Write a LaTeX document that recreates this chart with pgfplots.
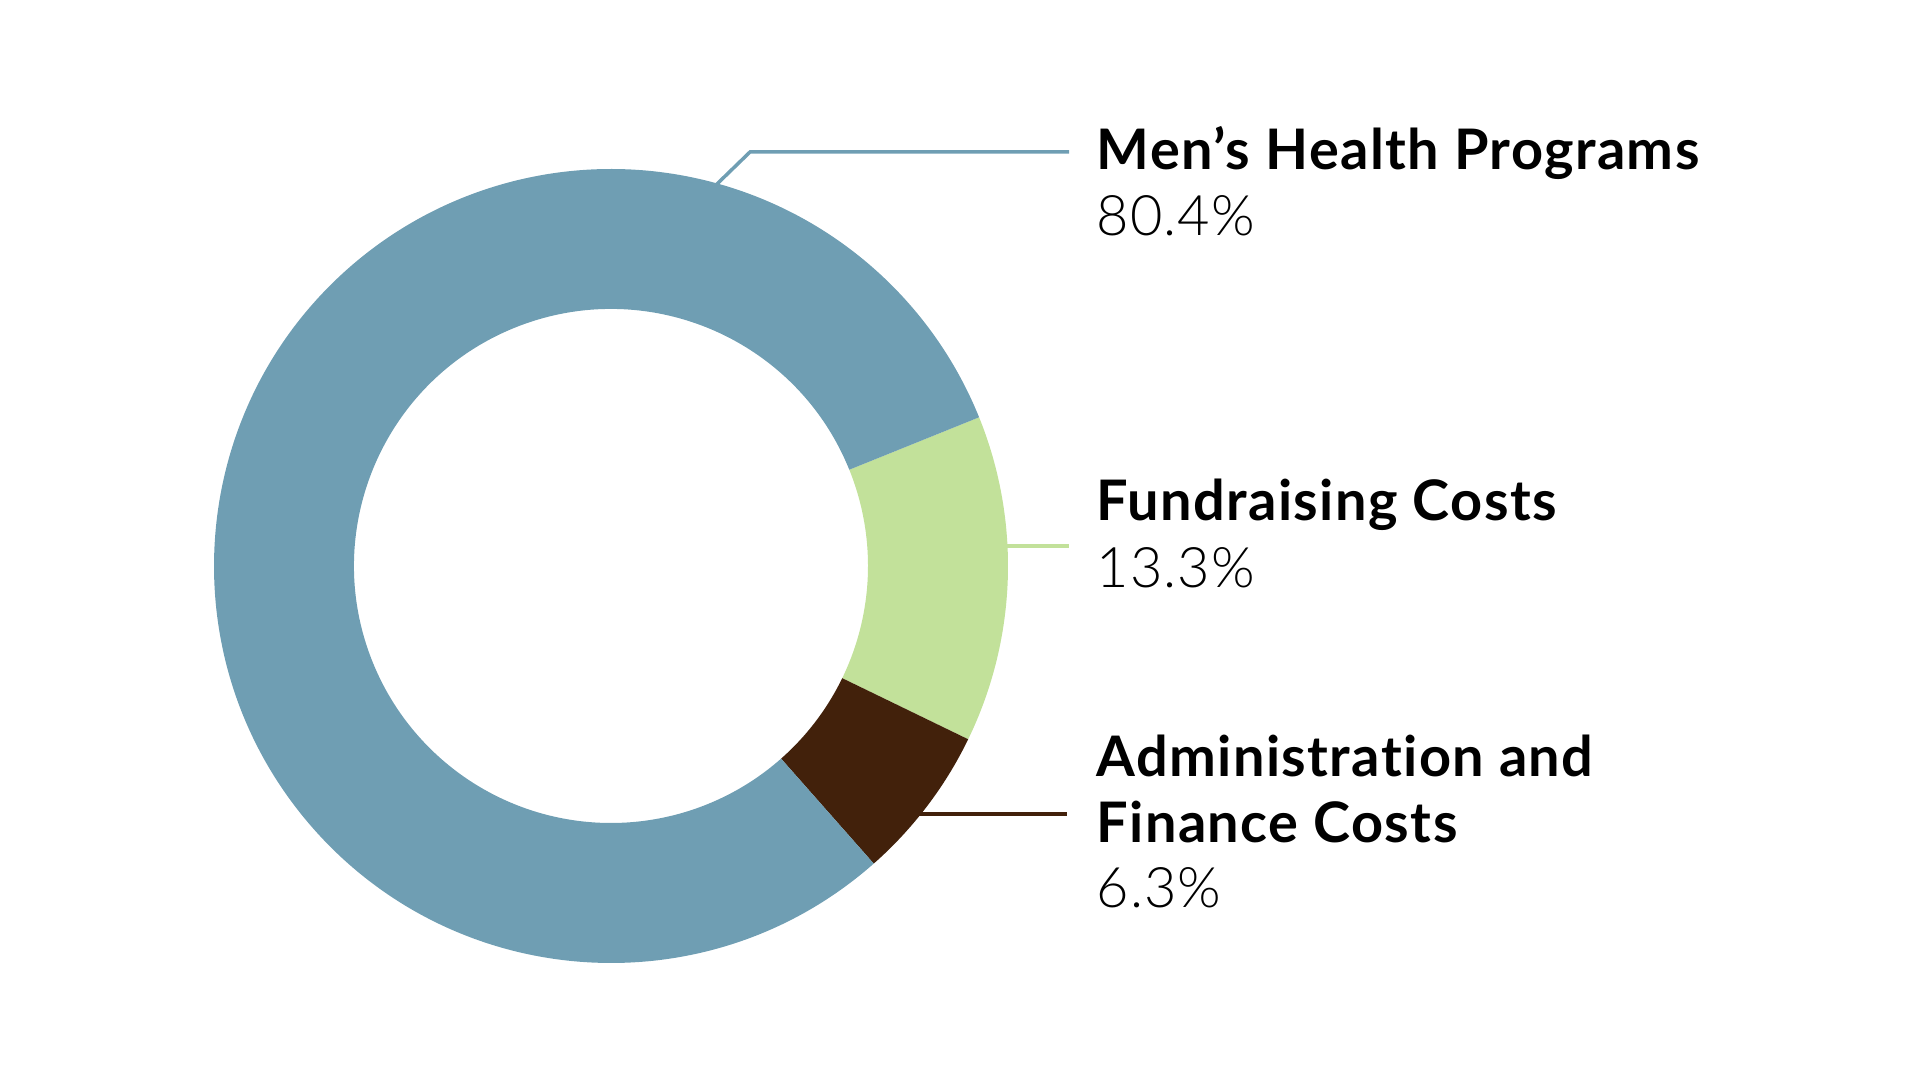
\documentclass[border=0pt]{standalone}
\usepackage{pgfplots}
\usepackage{pgfplotstable}
\pgfplotsset{compat=1.18}
\usepackage{fontspec}
\setmainfont{Lato}[Ligatures=NoCommon, BoldFeatures={LetterSpace=2.5}]
\newfontfamily\lightfont{Lato Light}[LetterSpace=2]
\definecolor{cblue}{HTML}{6F9EB3}
\definecolor{cgreen}{HTML}{C2E19A}
\definecolor{cbrown}{HTML}{42210B}

% shares in percent, in clockwise order from the start angle
\pgfplotstableread{
idx value
0 13.3
1 6.3
2 80.4
}\shares
\pgfplotstablegetelem{0}{value}\of\shares \let\vFund\pgfplotsretval
\pgfplotstablegetelem{1}{value}\of\shares \let\vAdmin\pgfplotsretval
\pgfplotstablegetelem{2}{value}\of\shares \let\vMen\pgfplotsretval
\pgfmathsetmacro\aA{22}
\pgfmathsetmacro\aB{\aA-3.6*\vFund}
\pgfmathsetmacro\aC{\aB-3.6*\vAdmin}
\pgfmathsetmacro\aD{\aC-3.6*\vMen}
\def\Ro{3.97cm}
\def\Ri{2.57cm}

\begin{document}
\begin{tikzpicture}
\begin{axis}[
  at={(0,0)}, anchor=south west,
  scale only axis, width=19.2cm, height=10.8cm,
  xmin=0, xmax=1920, ymin=0, ymax=1080,
  hide axis, clip=false]
\path (axis cs:0,0) rectangle (axis cs:1920,1080);
% donut slices
\fill[cgreen, shift={(axis cs:611,514)}] (\aA:\Ro) arc[start angle=\aA, end angle=\aB, radius=\Ro] -- (\aB:\Ri) arc[start angle=\aB, end angle=\aA, radius=\Ri] -- cycle;
\fill[cbrown, shift={(axis cs:611,514)}] (\aB:\Ro) arc[start angle=\aB, end angle=\aC, radius=\Ro] -- (\aC:\Ri) arc[start angle=\aC, end angle=\aB, radius=\Ri] -- cycle;
\fill[cblue, shift={(axis cs:611,514)}] (\aC:\Ro) arc[start angle=\aC, end angle=\aD, radius=\Ro] -- (\aD:\Ri) arc[start angle=\aD, end angle=\aC, radius=\Ri] -- cycle;
% leader lines
\draw[cblue, line width=0.035cm] (axis cs:716,895) -- (axis cs:750,928) -- (axis cs:1069,928);
\draw[cgreen, line width=0.035cm] (axis cs:1005,534) -- (axis cs:1069,534);
\draw[cbrown, line width=0.035cm] (axis cs:917,266) -- (axis cs:1067,266);
% labels
\node[anchor=base west, inner sep=0, font=\fontsize{15.9}{19}\selectfont\bfseries] at (axis cs:1096,910) {Men’s Health Programs};
\node[anchor=base west, inner sep=0, font=\fontsize{15.9}{19}\selectfont\lightfont] at (axis cs:1096,844) {80.4\%};
\node[anchor=base west, inner sep=0, font=\fontsize{15.9}{19}\selectfont\bfseries] at (axis cs:1096,559) {Fundraising Costs};
\node[anchor=base west, inner sep=0, font=\fontsize{15.9}{19}\selectfont\lightfont] at (axis cs:1096,492) {13.3\%};
\node[anchor=base west, inner sep=0, font=\fontsize{15.9}{19}\selectfont\bfseries] at (axis cs:1096,303) {Administration and};
\node[anchor=base west, inner sep=0, font=\fontsize{15.9}{19}\selectfont\bfseries] at (axis cs:1096,237) {Finance Costs};
\node[anchor=base west, inner sep=0, font=\fontsize{15.9}{19}\selectfont\lightfont] at (axis cs:1096,172) {6.3\%};
\end{axis}
\end{tikzpicture}
\end{document}
